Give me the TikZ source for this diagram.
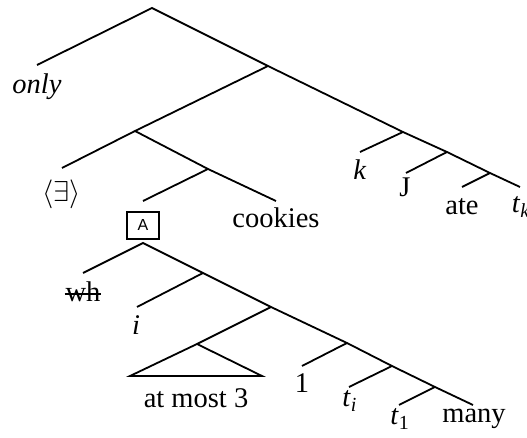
\documentclass[tikz,border=0pt]{standalone}
\usepackage{fontspec}
\setmainfont{Liberation Serif}
\setsansfont{Liberation Sans}

\begin{document}
\begin{tikzpicture}[x=0.5pt,y=-0.5pt,line width=0.9pt,
    lbl/.style={anchor=base,inner sep=0pt,font=\fontsize{14.25}{17}\selectfont},
    boxlbl/.style={draw,line width=0.8pt,anchor=north,inner sep=0pt,
      minimum width=16pt,minimum height=13.5pt,font=\sffamily\fontsize{8}{9}\selectfont}]
  \useasboundingbox (0,0) rectangle (527,438);
  % upper tree
  \coordinate (top)    at (152,8);
  \coordinate (onlyL)  at (37,65);
  \coordinate (x)      at (268,66);
  \coordinate (y)      at (135,131);
  \coordinate (z)      at (403,132);
  \coordinate (existL) at (62,168);
  \coordinate (q)      at (208,169);
  \coordinate (boxL)   at (143,201);
  \coordinate (cookL)  at (276,201);
  \coordinate (kL)     at (360,152);
  \coordinate (w)      at (447,152);
  \coordinate (jL)     at (406,173);
  \coordinate (v)      at (490,173);
  \coordinate (ateL)   at (462,187);
  \coordinate (tkL)    at (520,187);
  \draw (onlyL) -- (top) -- (x) -- (z) -- (w) -- (v) -- (tkL);
  \draw (x) -- (y) -- (existL);
  \draw (y) -- (q) -- (cookL);
  \draw (q) -- (boxL);
  \draw (z) -- (kL);
  \draw (w) -- (jL);
  \draw (v) -- (ateL);
  \node[lbl] (only)    at (37,94)  {\textit{only}};
  \node[lbl] (exist)   at (62,202) {$\langle\exists\rangle$};
  \node[boxlbl] (boxA) at (143,211) {A};
  \node[lbl] (cookies) at (276,228) {cookies};
  \node[lbl] (k)       at (360,180) {\textit{k}};
  \node[lbl] (j)       at (405,197) {J};
  \node[lbl] (ate)     at (462,215) {ate};
  \node[lbl,anchor=base west] (tk) at (511,213) {\textit{t}\textsubscript{\textit{k}}};
  % lower tree
  \coordinate (a)      at (143,243);
  \coordinate (whL)    at (83,273);
  \coordinate (r)      at (203,273);
  \coordinate (iL)     at (137,307);
  \coordinate (s)      at (271,307);
  \coordinate (t)      at (197,344);
  \coordinate (triL)   at (130,376);
  \coordinate (triR)   at (262,376);
  \coordinate (u)      at (347,343);
  \coordinate (oneL)   at (302,366);
  \coordinate (u2)     at (392,366);
  \coordinate (tiL)    at (349,387);
  \coordinate (u3)     at (435,387);
  \coordinate (tone)   at (399,405);
  \coordinate (manyL)  at (473,405);
  \draw (whL) -- (a) -- (r) -- (s) -- (u) -- (u2) -- (u3) -- (manyL);
  \draw (r) -- (iL);
  \draw (s) -- (t) -- (triL) -- (triR) -- (t);
  \draw (u) -- (oneL);
  \draw (u2) -- (tiL);
  \draw (u3) -- (tone);
  \node[lbl] (wh)     at (83,302)  {wh};
  \draw[line width=0.9pt] ([yshift=3.8pt]wh.base west) -- ([yshift=3.8pt]wh.base east);
  \node[lbl] (i)      at (136,335) {\textit{i}};
  \node[lbl] (most)   at (196,408) {at most 3};
  \node[lbl] (one)    at (302,393) {1};
  \node[lbl] (ti)     at (350,407) {\textit{t}\textsubscript{\textit{i}}};
  \node[lbl] (t1)     at (400,425) {\textit{t}\textsubscript{1}};
  \node[lbl] (many)   at (474,423) {many};
\end{tikzpicture}
\end{document}
